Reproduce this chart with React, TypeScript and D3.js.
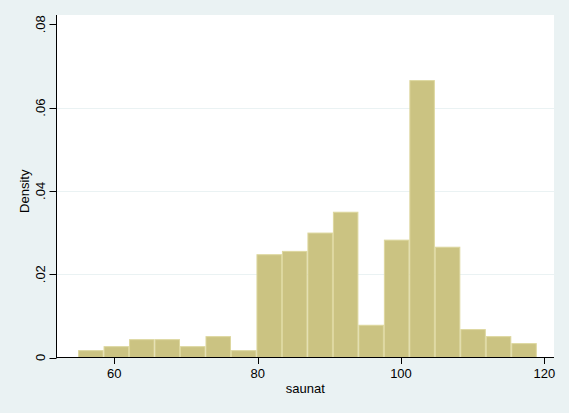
import React from "react";
import * as d3 from "d3";

const binStart = 54.94;
const binWidth = 3.556;
const densities = [
  0.00176, 0.00272, 0.0044, 0.0044, 0.00272, 0.00513, 0.00176, 0.0248, 0.0256,
  0.03, 0.035, 0.00786, 0.0283, 0.0666, 0.0266, 0.00682, 0.00513, 0.00345,
];
const xTicks = [60, 80, 100, 120];
const yTicks = [0, 0.02, 0.04, 0.06, 0.08];
const yTickLabels = ["0", ".02", ".04", ".06", ".08"];
const gridTicks = [0.02, 0.04, 0.06];
const xTitle = "saunat";
const yTitle = "Density";

const W = 569;
const H = 413;
const left = 56.5;
const right = 554;
const top = 15;
const bottom = 357.5;

export default function App() {
  const x = d3.scaleLinear().domain([51.93, 121.35]).range([left, right]);
  const y = d3.scaleLinear().domain([0, 0.08]).range([bottom, 24.3]);
  const font = "'Liberation Sans', Arial, Helvetica, sans-serif";
  const bars = densities.map((d, i) => {
    const x0 = binStart + i * binWidth;
    return { x0, x1: x0 + binWidth, d };
  });
  return (
    <div style={{ position: "fixed", left: 0, top: 0 }}>
      <svg width={W} height={H} style={{ display: "block" }} fontFamily={font}>
        <rect x={0} y={0} width={W} height={H} fill="#EAF2F3" />
        <rect x={left} y={top} width={right - left} height={bottom - top} fill="#FFFFFF" />
        {gridTicks.map((t) => (
          <line
            key={t}
            x1={left}
            x2={right}
            y1={Math.round(y(t)) + 0.5}
            y2={Math.round(y(t)) + 0.5}
            stroke="#EAF2F3"
            strokeWidth={1}
          />
        ))}
        {bars.map((b, i) => (
          <rect
            key={i}
            x={x(b.x0) + 0.5}
            y={y(b.d) + 0.5}
            width={x(b.x1) - x(b.x0) - 1}
            height={bottom - y(b.d) - 0.5}
            fill="#CBC382"
            stroke="#DDD79E"
            strokeWidth={1}
          />
        ))}
        <line x1={left} x2={left} y1={top} y2={bottom + 0.5} stroke="#000" strokeWidth={1} />
        <line x1={left} x2={right} y1={bottom} y2={bottom} stroke="#000" strokeWidth={1} />
        {yTicks.map((t, i) => (
          <g key={t}>
            <line
              x1={left - 7}
              x2={left}
              y1={Math.round(y(t)) + 0.5}
              y2={Math.round(y(t)) + 0.5}
              stroke="#000"
              strokeWidth={1}
            />
            <text
              transform={`translate(44.5,${y(t)}) rotate(-90)`}
              textAnchor="middle"
              fontSize={13}
              fill="#000"
            >
              {yTickLabels[i]}
            </text>
          </g>
        ))}
        {xTicks.map((t) => (
          <g key={t}>
            <line
              x1={Math.round(x(t)) + 0.5}
              x2={Math.round(x(t)) + 0.5}
              y1={bottom}
              y2={bottom + 6.5}
              stroke="#000"
              strokeWidth={1}
            />
            <text x={x(t)} y={377.5} textAnchor="middle" fontSize={13} fill="#000">
              {t}
            </text>
          </g>
        ))}
        <text x={(left + right) / 2} y={393} textAnchor="middle" fontSize={13} fill="#000">
          {xTitle}
        </text>
        <text
          transform={`translate(29.3,${(top + bottom) / 2 + 5}) rotate(-90)`}
          textAnchor="middle"
          fontSize={13}
          fill="#000"
        >
          {yTitle}
        </text>
      </svg>
    </div>
  );
}
